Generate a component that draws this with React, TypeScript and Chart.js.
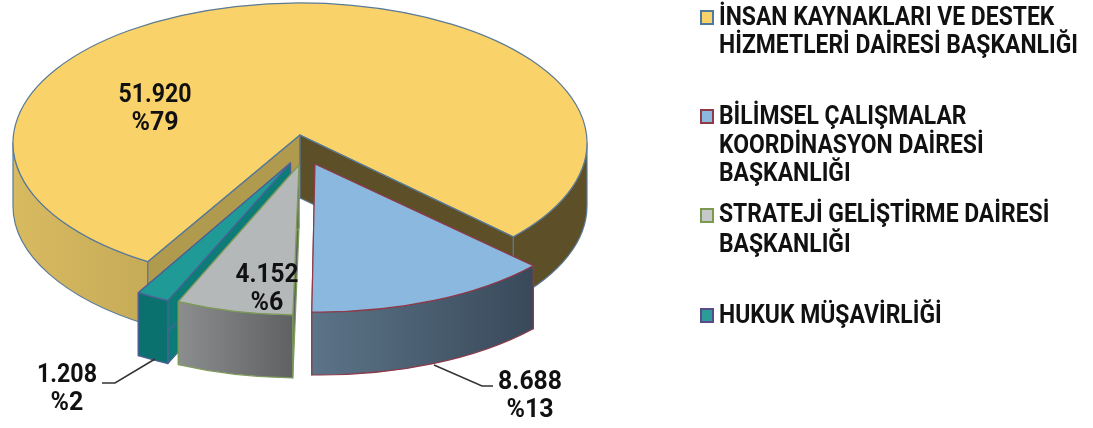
import React, { useEffect, useRef } from "react";
import { Chart, registerables } from "chart.js";

Chart.register(...registerables);

const categories = [
  ["İNSAN KAYNAKLARI VE DESTEK", "HİZMETLERİ DAİRESİ BAŞKANLIĞI"],
  ["BİLİMSEL ÇALIŞMALAR", "KOORDİNASYON DAİRESİ", "BAŞKANLIĞI"],
  ["STRATEJİ GELİŞTİRME DAİRESİ", "BAŞKANLIĞI"],
  ["HUKUK MÜŞAVİRLİĞİ"],
];
const values = [51920, 8688, 4152, 1208];

const topColors = ["#f9d36a", "#8ab8de", "#b5b8b9", "#1f9a96"];
const edgeColors = ["#5a7a96", "#8e3a4a", "#7e9a5a", "#4f5f96"];
const swatchColors = ["#fbd26a", "#8ab8de", "#c6c8c9", "#2a9d9a"];
const swatchEdges = ["#4d7aa0", "#8f3a44", "#7a9a50", "#5a4a8a"];
const frontLeft = ["#5d4f28", "#5c7488", "#8b8d8e", "#0b716f"];
const frontRight = ["#5d4f28", "#38495a", "#5f6162", "#0b716f"];
const wallColors = ["#5d4f28", "#3a4a58", "#5f6162", "#0d7c78"];

const RX = 287, RY = 140, DEPTH = 63;
const CENTER = { x: 300, y: 143 };
const APEX_SHIFT = [[0, -8], [-5, -8], [-2, -10], [0, -11]];
const EXPLODE = [[0, 0], [20, 29], [1, 32], [-9.5, 31]];
const PERSPECTIVE = 0.03;
const FRONT = (82 * Math.PI) / 180;
const TAU = Math.PI * 2;

const fmt = (v: number) => String(v).replace(/(\d)(?=(\d{3})$)/, "$1.");
const total = values.reduce((a, b) => a + b, 0);
const pct = (v: number) => "%" + Math.round((v / total) * 100);

const labelAnchors = [[155, 102], [530, 389], [267, 282], [67, 382]];
const labelWidths = [73, 64, 63, 60];
const leaderLines: Record<number, number[][]> = {
  1: [[434, 365], [482, 386], [493, 386]],
  3: [[102, 383], [115, 383], [155, 359]],
};
const legendRows = [
  { swatch: 10, lines: [25, 53] },
  { swatch: 109, lines: [124, 153, 181] },
  { swatch: 208, lines: [222, 252] },
  { swatch: 308, lines: [323] },
];

const warp = (t: number) => t + PERSPECTIVE * Math.sin(2 * (t - FRONT));

const piePlugin = {
  id: "pie3d",
  afterDatasetsUpdate(chart: any) {
    chart.getDatasetMeta(0).data.forEach((a: any) => {
      const turn = Math.floor(a.startAngle / TAU) * TAU;
      a.startAngle = warp(a.startAngle - turn);
      a.endAngle = warp(a.endAngle - turn);
      a.circumference = a.endAngle - a.startAngle;
    });
  },
  beforeDatasetDraw(chart: any) {
    const ctx: CanvasRenderingContext2D = chart.ctx;
    const arcs = chart.getDatasetMeta(0).data;

    const paint = (i: number) => {
      const arc = arcs[i];
      const cx = CENTER.x + EXPLODE[i][0];
      const cy = CENTER.y + EXPLODE[i][1];
      const ax = cx + APEX_SHIFT[i][0];
      const ay = cy + APEX_SHIFT[i][1];
      const s = arc.startAngle;
      const e = arc.endAngle;
      const rim = (t: number) => [cx + RX * Math.cos(t), cy + RY * Math.sin(t)];
      const [sx, sy] = rim(s);
      const [ex, ey] = rim(e);

      ctx.lineWidth = 1.2;
      ctx.strokeStyle = edgeColors[i];
      ctx.lineJoin = "round";

      const wall = (px: number, py: number, color: string) => {
        ctx.beginPath();
        ctx.moveTo(ax, ay);
        ctx.lineTo(px, py);
        ctx.lineTo(px, py + DEPTH);
        ctx.lineTo(ax, ay + DEPTH);
        ctx.closePath();
        ctx.fillStyle = color;
        ctx.fill();
        ctx.stroke();
      };

      const outer = (t0: number, t1: number, c0: string, c1: string) => {
        if (t1 <= t0) return;
        const [x0] = rim(t0);
        const [x1] = rim(t1);
        const g = ctx.createLinearGradient(Math.min(x0, x1), 0, Math.max(x0, x1), 0);
        g.addColorStop(0, c0);
        g.addColorStop(1, c1);
        ctx.beginPath();
        ctx.ellipse(cx, cy, RX, RY, 0, t0, t1, false);
        ctx.ellipse(cx, cy + DEPTH, RX, RY, 0, t1, t0, true);
        ctx.closePath();
        ctx.fillStyle = g;
        ctx.fill();
        ctx.stroke();
      };

      const wedgePath = () => {
        ctx.beginPath();
        ctx.moveTo(ax, ay);
        ctx.lineTo(sx, sy);
        ctx.ellipse(cx, cy, RX, RY, 0, s, e, false);
        ctx.closePath();
      };

      const top = () => {
        ctx.save();
        if (i > 0) {
          wedgePath();
          ctx.clip();
        }
        ctx.translate(cx, cy);
        ctx.scale(RX / arc.outerRadius, RY / arc.outerRadius);
        ctx.translate(-arc.x, -arc.y);
        arc.draw(ctx);
        ctx.restore();
      };

      const outline = () => {
        wedgePath();
        ctx.stroke();
      };

      if (i === 0) {
        outer(s, Math.PI, "#d8ba60", "#c6ab58");
        outer(TAU, e, wallColors[0], wallColors[0]);
        top();
        wall(sx, sy, "#b09a4e");
        wall(ex, ey, wallColors[0]);
        outline();
      } else {
        wall(sx, sy, wallColors[i]);
        wall(ex, ey, wallColors[i]);
        outer(Math.max(s, 0), Math.min(e, Math.PI), frontLeft[i], frontRight[i]);
        // the wedge's point stands a little higher than the ellipse centre
        ctx.beginPath();
        ctx.moveTo(ax, ay);
        ctx.lineTo(sx, sy);
        ctx.lineTo(ex, ey);
        ctx.closePath();
        ctx.fillStyle = topColors[i];
        ctx.fill();
        top();
        outline();
      }
    };

    ctx.save();
    [0, 3, 2, 1].forEach(paint);
    ctx.restore();
    return false;
  },
  afterDraw(chart: any) {
    const ctx: CanvasRenderingContext2D = chart.ctx;
    ctx.save();
    ctx.fillStyle = "#111";
    ctx.textBaseline = "alphabetic";

    // value labels
    ctx.font = "700 25px Roboto";
    ctx.textAlign = "center";
    values.forEach((v, i) => {
      const [x, y] = labelAnchors[i];
      ctx.fillText(fmt(v), x, y, labelWidths[i]);
      ctx.fillText(pct(v), x, y + 28);
      const pts = leaderLines[i];
      if (pts) {
        ctx.beginPath();
        pts.forEach(([px, py], k) => (k ? ctx.lineTo(px, py) : ctx.moveTo(px, py)));
        ctx.strokeStyle = "#333";
        ctx.lineWidth = 1.5;
        ctx.stroke();
      }
    });

    // legend
    ctx.textAlign = "left";
    ctx.font = "700 25px Roboto";
    const longest = ctx.measureText(categories[0][1]).width;
    const xScale = 359 / longest;
    categories.forEach((lines, i) => {
      const row = legendRows[i];
      ctx.fillStyle = swatchColors[i];
      ctx.strokeStyle = swatchEdges[i];
      ctx.lineWidth = 2;
      ctx.fillRect(701, row.swatch + 1, 12, 13);
      ctx.strokeRect(701, row.swatch + 1, 12, 13);
      ctx.fillStyle = "#111";
      lines.forEach((line, k) => {
        ctx.save();
        ctx.translate(719, row.lines[k]);
        ctx.scale(xScale, 1);
        ctx.fillText(line, 0, 0);
        ctx.restore();
      });
    });
    ctx.restore();
  },
};

export default function App() {
  const ref = useRef<HTMLCanvasElement>(null);
  useEffect(() => {
    document.body.style.margin = "0";
    const chart = new Chart(ref.current!, {
      type: "pie",
      data: {
        labels: categories.map((c) => c.join(" ")),
        datasets: [
          {
            data: values,
            backgroundColor: topColors,
            borderWidth: 0,
            clip: false,
          } as any,
        ],
      },
      options: {
        responsive: false,
        animation: false,
        rotation: 120.35 + 90,
        plugins: { legend: { display: false }, tooltip: { enabled: false } },
      },
      plugins: [piePlugin],
    } as any);
    return () => chart.destroy();
  }, []);
  return <canvas ref={ref} width={1093} height={428} style={{ display: "block" }} />;
}
